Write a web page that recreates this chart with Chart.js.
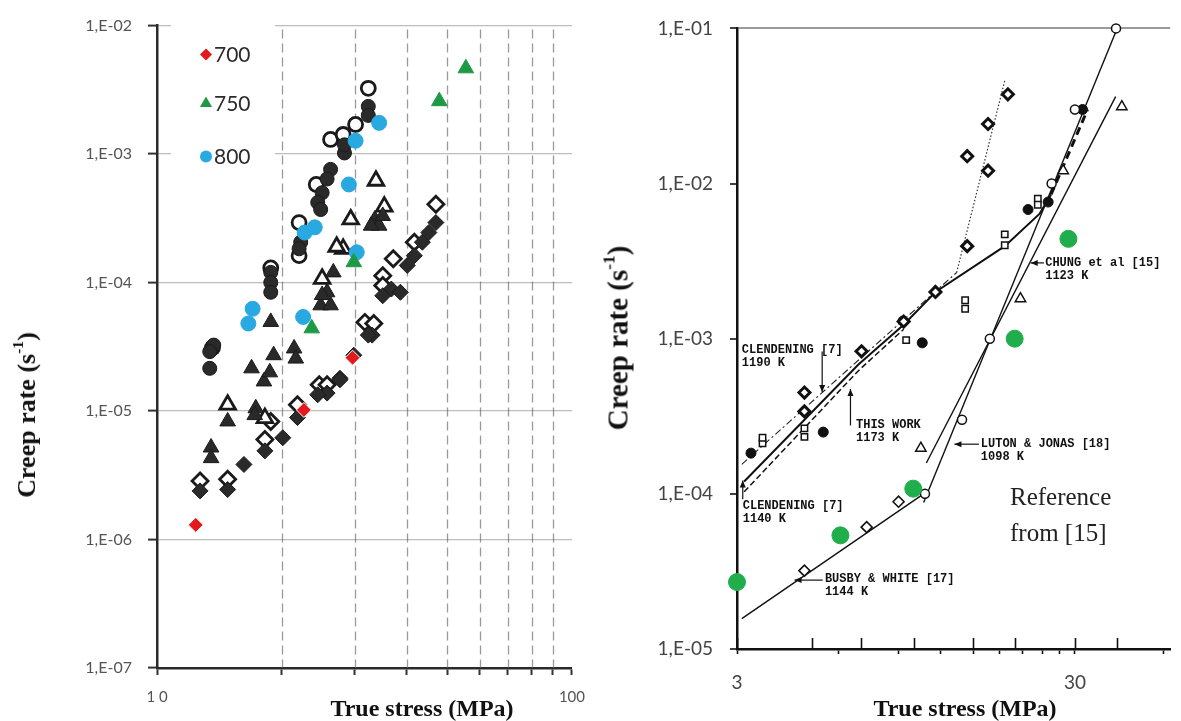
<!DOCTYPE html>
<html><head><meta charset="utf-8">
<script src="https://cdn.jsdelivr.net/npm/chart.js@4.4.1/dist/chart.umd.min.js"></script>
<style>
html,body{margin:0;padding:0;background:#fff;width:1181px;height:721px;overflow:hidden;position:relative;}
#left{position:absolute;left:0;top:0;width:598px;height:721px;}
#right{position:absolute;left:598px;top:0;width:583px;height:721px;}
.t{position:absolute;font-family:"Liberation Serif","Times New Roman",serif;font-weight:bold;color:#111;white-space:nowrap;line-height:1;}
.rot{transform:translate(-50%,-50%) rotate(-90deg);}
.ctr{transform:translate(-50%,-50%);}
sup{font-size:0.6em;vertical-align:0.75em;line-height:0;}
.ref{position:absolute;font-family:"Liberation Serif","Times New Roman",serif;font-size:25px;color:#222;line-height:36px;left:1010px;top:479px;}
</style></head><body>
<div id="left"><canvas id="c1"></canvas></div>
<div id="right"><canvas id="c2"></canvas></div>
<div class="t rot" style="left:27px;top:415px;font-size:26px;">Creep rate (s<sup>-1</sup>)</div>
<div class="t ctr" style="left:422px;top:708px;font-size:24px;">True stress (MPa)</div>
<div class="t rot" style="left:618px;top:338px;font-size:29px;">Creep rate (s<sup>-1</sup>)</div>
<div class="t ctr" style="left:965px;top:708px;font-size:24px;">True stress (MPa)</div>
<div class="ref">Reference<br>from [15]</div>
<script>
// ---------- LEFT PANEL DATA ----------
const leftTicksX = [10,20,30,40,50,60,70,80,90,100];
const leftLabelsX = [10,100];
const leftDashedGrid = [20,30,40,50,60,70,80,90];
const leftTicksY = [1e-7,1e-6,1e-5,1e-4,1e-3,1e-2];
const legendSeries = ['700','750','800'];

const red700X = [12.4, 22.6, 29.6];
const red700Y = [1.3e-6, 1.02e-5, 2.6e-5];
const green750X = [23.6, 29.8, 47.9, 55.5];
const green750Y = [4.4e-5, 1.44e-4, 2.58e-3, 4.65e-3];
const blue800X = [16.6, 17.0, 22.5, 22.7, 24.0, 29.0, 30.1, 30.3, 34.3];
const blue800Y = [4.8e-5, 6.25e-5, 5.4e-5, 2.45e-4, 2.69e-4, 5.8e-4, 1.27e-3, 1.72e-4, 1.75e-3];

const hCircX = [32.3, 30.1, 26.2, 28.1, 24.2, 22.0, 22.0, 18.8, 13.6];
const hCircY = [3.25e-3, 1.7e-3, 1.3e-3, 1.42e-3, 5.8e-4, 2.93e-4, 1.62e-4, 1.3e-4, 3.1e-5];
const fCircX = [32.3, 32.3, 28.3, 28.3, 26.2, 25.7, 25.0, 24.4, 24.8, 22.2, 22.0, 18.8, 18.8, 18.8, 13.7, 13.4, 13.4];
const fCircY = [2.35e-3, 2.0e-3, 1.02e-3, 1.18e-3, 7.6e-4, 6.4e-4, 5.0e-4, 4.2e-4, 3.7e-4, 2.06e-4, 1.83e-4, 1.2e-4, 1.0e-4, 8.4e-5, 3.26e-5, 2.9e-5, 2.15e-5];
const hTriX = [33.7, 29.3, 35.3, 28.1, 27.1, 25.0, 14.8, 18.2];
const hTriY = [6.2e-4, 3.1e-4, 3.9e-4, 1.83e-4, 1.9e-4, 1.07e-4, 1.12e-5, 8.8e-6];
const fTriX = [33.5, 34.3, 32.8, 35.0, 26.6, 25.7, 24.8, 26.2, 21.4, 21.6, 18.8, 19.1, 16.9, 18.1, 17.3, 17.2, 14.8, 13.5, 13.5, 18.7, 25.0];
const fTriY = [3.1e-4, 2.77e-4, 2.77e-4, 3.3e-4, 1.2e-4, 8.4e-5, 6.65e-5, 6.65e-5, 3.07e-5, 2.56e-5, 4.94e-5, 2.72e-5, 2.15e-5, 1.7e-5, 1.05e-5, 9.3e-6, 8.3e-6, 5.2e-6, 4.3e-6, 2.0e-5, 8.0e-5];
const hDiaX = [47.0, 41.7, 37.1, 35.0, 35.0, 31.7, 33.3, 24.6, 25.7, 21.8, 18.8, 18.2, 12.7, 14.8];
const hDiaY = [4.07e-4, 2.06e-4, 1.53e-4, 1.13e-4, 9.5e-5, 4.9e-5, 4.8e-5, 1.6e-5, 1.6e-5, 1.12e-5, 8.3e-6, 6.0e-6, 2.85e-6, 2.95e-6];
const fDiaX = [47.0, 45.2, 43.6, 41.7, 40.1, 36.7, 38.6, 35.0, 33.0, 32.3, 29.8, 27.6, 25.7, 24.4, 21.8, 20.1, 18.2, 16.2, 14.8, 12.7, 27.6];
const fDiaY = [2.93e-4, 2.45e-4, 2.06e-4, 1.62e-4, 1.36e-4, 8.9e-5, 8.4e-5, 7.9e-5, 3.9e-5, 3.9e-5, 2.72e-5, 1.8e-5, 1.38e-5, 1.34e-5, 8.9e-6, 6.2e-6, 4.9e-6, 3.84e-6, 2.45e-6, 2.39e-6, 1.75e-5];

// ---------- RIGHT PANEL DATA ----------
const rightTicksX = [3,6,9,12,15,18,21,24,27,30,55];
const rightLabelsX = [3,30];
const rightUpTicks = [3,5,7,10,15,20,30,40];
const rightTicksY = [1e-5,1e-4,1e-3,1e-2,1e-1];

const refX = [3.0, 6.07, 9.97, 19.9, 28.7];
const refY = [2.7e-5, 5.4e-5, 1.08e-4, 1.0e-3, 4.4e-3];
const busbyPtsX = [4.75, 7.26, 9.02];
const busbyPtsY = [3.2e-5, 6.1e-5, 8.9e-5];
const lutonPtsX = [10.8, 13.9, 16.8, 25.6, 30.0, 39.7];
const lutonPtsY = [1.0e-4, 3.0e-4, 1.0e-3, 1.0e-2, 3.0e-2, 0.1];
const chungPtsX = [10.5, 20.7, 27.7, 41.3];
const chungPtsY = [1.97e-4, 1.81e-3, 1.21e-2, 3.13e-2];
const clen1190PtsX = [4.75, 4.75, 7.01, 9.34, 11.6, 14.4, 14.4, 16.6, 16.6, 19.0];
const clen1190PtsY = [4.5e-4, 3.4e-4, 8.3e-4, 1.29e-3, 2.0e-3, 3.95e-3, 1.5e-2, 1.21e-2, 2.42e-2, 3.76e-2];
const workFilledX = [3.3, 5.4, 9.3, 10.6, 21.8, 25.0, 31.6];
const workFilledY = [1.83e-4, 2.5e-4, 1.3e-3, 9.4e-4, 6.8e-3, 7.6e-3, 3.0e-2];
const squaresX = [3.57, 3.57, 4.75, 4.75, 9.5, 14.2, 14.2, 18.6, 18.6, 23.3, 23.3];
const squaresY = [2.12e-4, 2.3e-4, 2.64e-4, 2.33e-4, 9.8e-4, 1.77e-3, 1.56e-3, 4.7e-3, 4.0e-3, 8.0e-3, 7.3e-3];

const busbyLineX = [3.1, 10.7];
const busbyLineY = [1.57e-5, 1.0e-4];
const lutonLineX = [10.7, 40.0];
const lutonLineY = [8.8e-5, 0.1];
const chungLineX = [10.9, 39.6];
const chungLineY = [1.58e-4, 3.63e-2];
const clen1190LineX = [3.1, 13.4];
const clen1190LineY = [1.55e-4, 2.67e-3];
const clen1190SteepX = [13.4, 18.6];
const clen1190SteepY = [2.67e-3, 4.6e-2];
const workLineX = [3.15, 6.85, 9.34, 11.6, 18.6, 23.6, 25.5];
const workLineY = [1.2e-4, 6.8e-4, 1.23e-3, 2.0e-3, 3.95e-3, 6.4e-3, 8.5e-3];
const workSteepX = [25.5, 32.7];
const workSteepY = [8.5e-3, 3.0e-2];
const clen1140LineX = [3.15, 6.85, 9.34];
const clen1140LineY = [1.03e-4, 6.2e-4, 1.15e-3];

const noteLines = [
  ['CLENDENING [7]','1190 K'],
  ['THIS WORK','1173 K'],
  ['CLENDENING [7]','1140 K'],
  ['LUTON & JONAS [18]','1098 K'],
  ['BUSBY & WHITE [17]','1144 K'],
  ['CHUNG et al [15]','1123 K']
];
const noteAtX = [3.10, 6.75, 3.12, 15.8, 5.46, 24.5];
const noteAtY = [8.4e-4, 2.76e-4, 8.3e-5, 2.09e-4, 2.82e-5, 3.08e-3];
const arrowFromX = [5.36, 6.5, 3.12, 15.6, 5.38, 24.3];
const arrowFromY = [8.26e-4, 2.76e-4, 9.23e-5, 2.09e-4, 2.78e-5, 3.08e-3];
const arrowToX = [5.36, 6.5, 3.12, 13.2, 4.44, 22.2];
const arrowToY = [4.54e-4, 4.74e-4, 1.22e-4, 2.09e-4, 2.78e-5, 3.08e-3];

// ---------- helpers ----------
const pts = (xs, ys) => xs.map((x, i) => ({x: x, y: ys[i]}));
const expLabel = v => { const e = Math.round(Math.log10(v)); const s = Math.abs(e); return '1,E' + (e < 0 ? '-' : '+') + (s < 10 ? '0' + s : s); };
Chart.defaults.font.family = 'Lato, "Open Sans", sans-serif';

const DARK = '#2a2a2a', EDGE = '#1a1a1a';
function markers(label, data, style, r, fill, edge, bw, order) {
  return {label, data, pointStyle: style, pointRadius: r, pointHoverRadius: r, backgroundColor: fill, borderColor: edge,
          pointBorderWidth: bw, borderWidth: bw, showLine: false, order, clip: false};
}
function line(label, data, color, width, dash) {
  return {label, data, borderColor: color, borderWidth: width, borderDash: dash, showLine: true, pointRadius: 0,
          fill: false, tension: 0, order: 5};
}

// ---------- LEFT CHART ----------
const leftDecor = {
  id: 'leftDecor',
  beforeDatasetsDraw(chart) {
    const {ctx, chartArea: a, scales: {x}} = chart;
    ctx.save();
    ctx.strokeStyle = 'rgba(100,100,100,0.65)'; ctx.lineWidth = 1.3; ctx.setLineDash([9, 5]);
    leftDashedGrid.forEach(v => {
      const px = Math.round(x.getPixelForValue(v)) + 0.5;
      ctx.beginPath(); ctx.moveTo(px, a.top + 4); ctx.lineTo(px, a.bottom); ctx.stroke();
    });
    ctx.setLineDash([]);
    ctx.fillStyle = '#fff';
    ctx.fillRect(a.left + 14, a.top - 3, 104, 152);
    const rows = [29, 78, 131];
    chart.data.datasets.filter(d => legendSeries.includes(d.label)).forEach((d, i) => {
      const cx = a.left + 49, cy = a.top + rows[i];
      ctx.fillStyle = d.backgroundColor; ctx.strokeStyle = d.borderColor; ctx.lineWidth = 1;
      Chart.helpers.drawPoint(ctx, {pointStyle: d.pointStyle, rotation: 0, radius: d.pointStyle === 'triangle' ? 7 : 6, borderWidth: 0}, cx, cy);
      ctx.fillStyle = '#2b2b2b'; ctx.font = '21px Lato, sans-serif'; ctx.textBaseline = 'middle'; ctx.textAlign = 'left';
      ctx.fillText(d.label, cx + 8, cy + 1);
    });
    ctx.restore();
  }
};

new Chart(document.getElementById('c1'), {
  type: 'scatter',
  data: {datasets: [
    markers('700', pts(red700X, red700Y), 'rectRot', 7.5, '#e3191b', '#ffffff', 1, 0),
    markers('750', pts(green750X, green750Y), 'triangle', 9, '#1e9a46', '#1e9a46', 1, 0),
    markers('800', pts(blue800X, blue800Y), 'circle', 7.5, '#29a9e1', '#29a9e1', 1, 0),
    markers('hollow circles', pts(hCircX, hCircY), 'circle', 7, '#ffffff', EDGE, 2.8, 2),
    markers('filled circles', pts(fCircX, fCircY), 'circle', 7, DARK, EDGE, 1, 1),
    markers('hollow triangles', pts(hTriX, hTriY), 'triangle', 9, '#ffffff', EDGE, 2.8, 2),
    markers('filled triangles', pts(fTriX, fTriY), 'triangle', 9, DARK, EDGE, 1, 1),
    markers('hollow diamonds', pts(hDiaX, hDiaY), 'rectRot', 8, '#ffffff', EDGE, 2.8, 2),
    markers('filled diamonds', pts(fDiaX, fDiaY), 'rectRot', 8, DARK, EDGE, 1, 1)
  ]},
  options: {
    responsive: true, maintainAspectRatio: false, animation: false, devicePixelRatio: 1,
    layout: {padding: {left: 0, top: 22, right: 4, bottom: 0}},
    plugins: {legend: {display: false}, tooltip: {enabled: false}},
    scales: {
      x: {type: 'logarithmic', min: 10, max: 100, position: 'bottom',
        afterBuildTicks: s => { s.ticks = leftTicksX.map(v => ({value: v})); },
        afterFit: s => { s.height = 53; },
        ticks: {callback: v => leftLabelsX.includes(v) ? (v === 10 ? '1 0' : String(v)) : '',
                font: {size: 15}, color: '#555', padding: 13, autoSkip: false, maxRotation: 0},
        grid: {drawOnChartArea: false, tickLength: 7, tickColor: '#333', tickWidth: 2},
        border: {color: '#2a2a2a', width: 2.5}
      },
      y: {type: 'logarithmic', min: 1e-7, max: 1e-2,
        afterBuildTicks: s => { s.ticks = leftTicksY.map(v => ({value: v})); },
        afterFit: s => { s.width = 157; },
        ticks: {callback: v => expLabel(v), font: {size: 16}, color: '#555', padding: 16},
        grid: {color: '#bdbdbd', lineWidth: 1.2, tickColor: '#333', tickLength: 9, tickWidth: 2},
        border: {color: '#2a2a2a', width: 2.5}
      }
    }
  },
  plugins: [leftDecor]
});

// ---------- RIGHT CHART ----------
function arrowHead(ctx, x1, y1, x2, y2) {
  const ang = Math.atan2(y2 - y1, x2 - x1), L = 7, W = 3;
  ctx.beginPath();
  ctx.moveTo(x2, y2);
  ctx.lineTo(x2 - L * Math.cos(ang) + W * Math.sin(ang), y2 - L * Math.sin(ang) - W * Math.cos(ang));
  ctx.lineTo(x2 - L * Math.cos(ang) - W * Math.sin(ang), y2 - L * Math.sin(ang) + W * Math.cos(ang));
  ctx.closePath(); ctx.fill();
}
const rightDecor = {
  id: 'rightDecor',
  afterDatasetsDraw(chart) {
    const {ctx, chartArea: a, scales: {x, y}} = chart;
    ctx.save();
    ctx.strokeStyle = '#111'; ctx.lineWidth = 1.6;
    rightUpTicks.forEach(v => {
      const px = Math.round(x.getPixelForValue(v)) + 0.5;
      ctx.beginPath(); ctx.moveTo(px, a.bottom); ctx.lineTo(px, a.bottom - 11); ctx.stroke();
    });
    ctx.font = 'bold 12px "Liberation Mono", "DejaVu Sans Mono", monospace';
    ctx.fillStyle = '#111'; ctx.textBaseline = 'middle'; ctx.textAlign = 'left';
    noteLines.forEach((lines, i) => {
      const px = x.getPixelForValue(noteAtX[i]), py = y.getPixelForValue(noteAtY[i]);
      lines.forEach((t, k) => ctx.fillText(t, px, py + k * 13));
      const x1 = x.getPixelForValue(arrowFromX[i]), y1 = y.getPixelForValue(arrowFromY[i]);
      const x2 = x.getPixelForValue(arrowToX[i]), y2 = y.getPixelForValue(arrowToY[i]);
      ctx.lineWidth = 1.2;
      ctx.beginPath(); ctx.moveTo(x1, y1); ctx.lineTo(x2, y2); ctx.stroke();
      arrowHead(ctx, x1, y1, x2, y2);
    });
    ctx.restore();
  }
};

new Chart(document.getElementById('c2'), {
  type: 'scatter',
  data: {datasets: [
    markers('Reference from [15]', pts(refX, refY), 'circle', 8.5, '#1fae4b', '#1fae4b', 1, 0),
    markers('Busby & White', pts(busbyPtsX, busbyPtsY), 'rectRot', 5.5, '#ffffff', '#111', 1.6, 1),
    markers('Luton & Jonas', pts(lutonPtsX, lutonPtsY), 'circle', 4.5, '#ffffff', '#111', 1.5, 1),
    markers('Chung', pts(chungPtsX, chungPtsY), 'triangle', 6, '#ffffff', '#111', 1.5, 1),
    markers('Clendening 1190 K', pts(clen1190PtsX, clen1190PtsY), 'rectRot', 5.5, '#ffffff', '#111', 3, 1),
    markers('This work', pts(workFilledX, workFilledY), 'circle', 5, '#111', '#111', 1, 1),
    markers('Clendening 1140 K', pts(squaresX, squaresY), 'rect', 4.5, '#ffffff', '#111', 1.5, 1),
    line('busby line', pts(busbyLineX, busbyLineY), '#111', 1.4, []),
    line('luton line', pts(lutonLineX, lutonLineY), '#111', 1.4, []),
    line('chung line', pts(chungLineX, chungLineY), '#111', 1.4, []),
    line('clendening 1190 line', pts(clen1190LineX, clen1190LineY), '#222', 1.1, [7, 3, 2, 3]),
    line('clendening 1190 steep', pts(clen1190SteepX, clen1190SteepY), '#333', 1.2, [1.5, 2]),
    line('this work line', pts(workLineX, workLineY), '#111', 2, []),
    line('this work steep', pts(workSteepX, workSteepY), '#111', 3, [8, 5]),
    line('clendening 1140 line', pts(clen1140LineX, clen1140LineY), '#111', 1.5, [6, 3])
  ]},
  options: {
    responsive: true, maintainAspectRatio: false, animation: false, devicePixelRatio: 1,
    layout: {padding: {left: 0, top: 19, right: 0, bottom: 0}},
    plugins: {legend: {display: false}, tooltip: {enabled: false}},
    scales: {
      x: {type: 'logarithmic', min: 3, max: 57.4, position: 'bottom',
        afterBuildTicks: s => { s.ticks = rightTicksX.map(v => ({value: v})); },
        afterFit: s => { s.height = 72; },
        ticks: {callback: v => rightLabelsX.includes(v) ? String(v) : '', font: {size: 19}, color: '#444',
                padding: 17, autoSkip: false, maxRotation: 0},
        grid: {drawOnChartArea: false, tickLength: 5, tickColor: '#111', tickWidth: 1.6},
        border: {color: '#111', width: 2.5}
      },
      y: {type: 'logarithmic', min: 1e-5, max: 1e-1,
        afterBuildTicks: s => { s.ticks = rightTicksY.map(v => ({value: v})); },
        afterFit: s => { s.width = 139; },
        ticks: {callback: v => expLabel(v), font: {size: 19}, color: '#444', padding: 17},
        grid: {color: c => (c.tick && c.tick.value === 1e-1) ? '#9a9a9a' : 'rgba(0,0,0,0)', lineWidth: 2,
               tickColor: '#111', tickLength: 7, tickWidth: 1.6},
        border: {color: '#111', width: 2.5}
      }
    }
  },
  plugins: [rightDecor]
});
</script>
</body></html>
